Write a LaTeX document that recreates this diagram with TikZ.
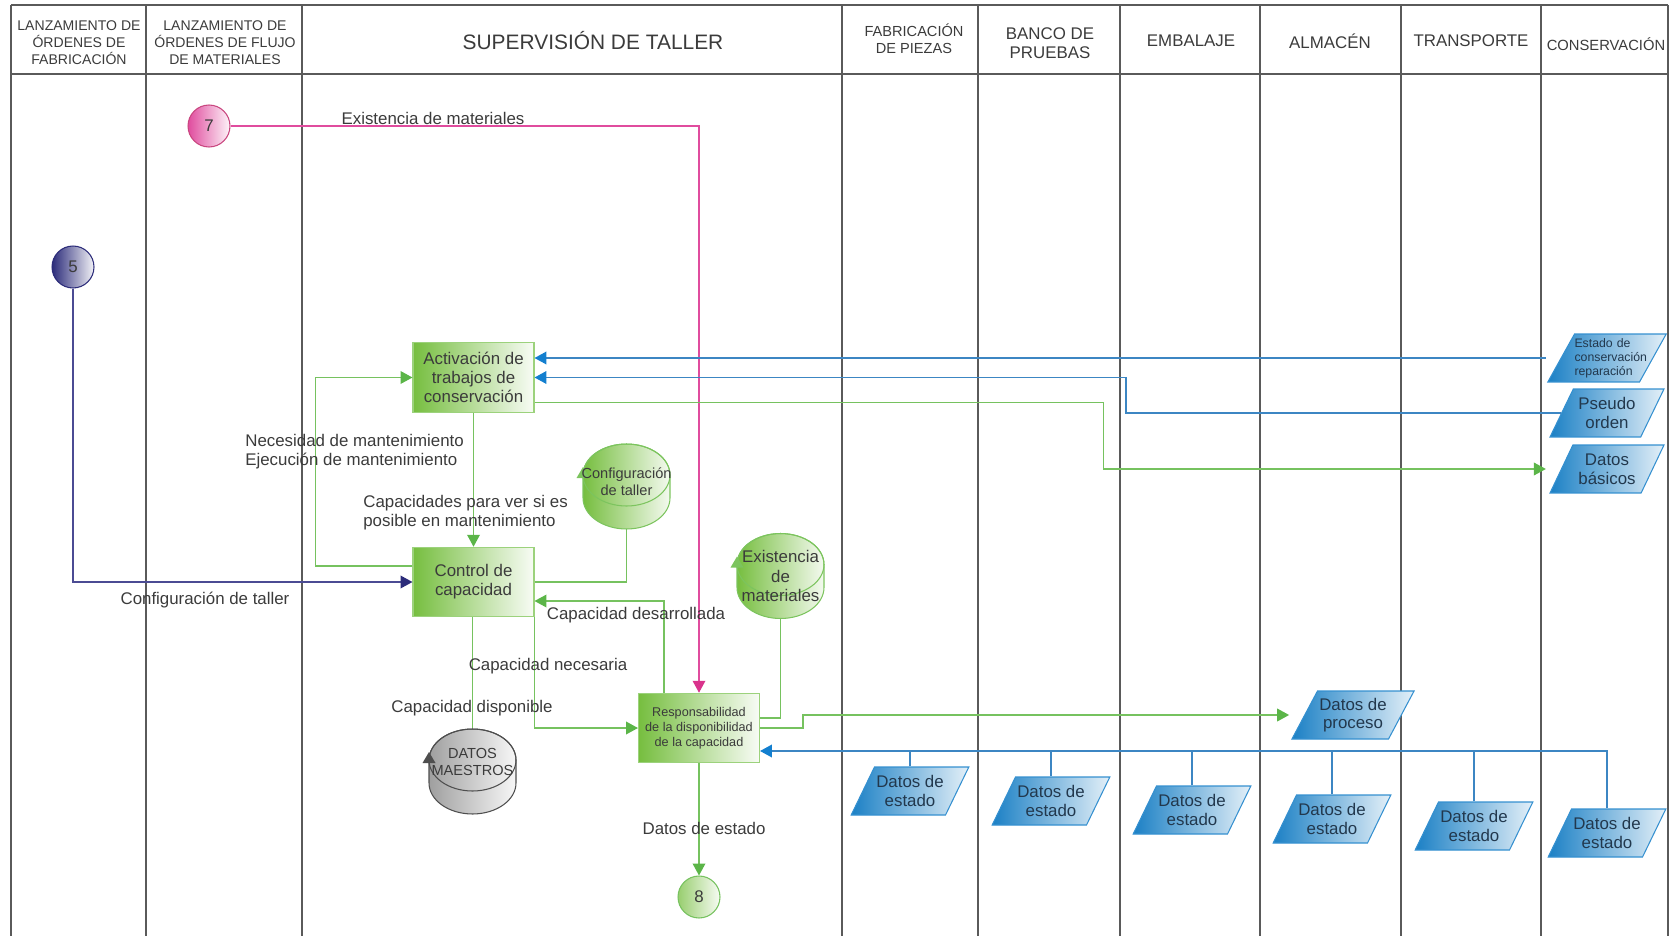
\documentclass[tikz,border=0pt]{standalone}
\usepackage{fontspec}
\setmainfont{Liberation Sans}
\usepackage{xcolor}
\usepackage{tikz}
\usetikzlibrary{shapes.geometric, arrows.meta, positioning, calc}

\definecolor{lanegray}{HTML}{5A5A5A}
\definecolor{txtgray}{HTML}{3B3B3B}
\definecolor{flowgreen}{HTML}{76C25F}
\definecolor{tipgreen}{HTML}{5BB548}
\definecolor{boxgreen}{HTML}{76BE3F}
\definecolor{boxedge}{HTML}{9CD27C}
\definecolor{storeedge}{HTML}{7CC45E}
\definecolor{flowblue}{HTML}{3C86C3}
\definecolor{tipblue}{HTML}{137FCF}
\definecolor{docblue}{HTML}{1B80C5}
\definecolor{docedge}{HTML}{3590D0}
\definecolor{doctext}{HTML}{22384D}
\definecolor{flowpink}{HTML}{E04C9E}
\definecolor{tippink}{HTML}{D9338C}
\definecolor{pinkedge}{HTML}{C9467F}
\definecolor{flownavy}{HTML}{4B4B93}
\definecolor{tipnavy}{HTML}{2C2C7A}
\definecolor{dmedge}{HTML}{4E4E4E}
\colorlet{dmgray}{gray!75}

% data store: short drum around a centre point, marker tip on the lid
\newcommand{\drum}[3]{%
    \path [left color=#2, right color=#2!8, draw=#3, line width=0.6pt]
        ([shift={(-0.87cm,0.23cm)}]#1) -- ([shift={(-0.87cm,-0.23cm)}]#1)
        arc [start angle=180, end angle=360, x radius=0.87cm, y radius=0.62cm]
        -- ([shift={(0.87cm,0.23cm)}]#1)
        arc [start angle=0, end angle=180, x radius=0.87cm, y radius=0.62cm] -- cycle;
    \draw [#3, line width=0.6pt] ([yshift=0.23cm]#1) ellipse [x radius=0.87cm, y radius=0.62cm];
    \fill [#3] ([shift={(-0.87cm,0.39cm)}]#1) -- ++(-0.13cm,-0.22cm) -- ++(0.26cm,0) -- cycle;
}

\begin{document}
\begin{tikzpicture}[
        x=0.02cm, y=-0.02cm,
        lane/.style={draw=lanegray, line width=0.75pt},
        lanetitle/.style={align=center, text=txtgray, font=\fontsize{8}{9.6}\selectfont},
        lanehead/.style={align=center, text=txtgray, font=\fontsize{9.6}{10.6}\selectfont},
        flowlabel/.style={align=left, inner sep=0pt, text=txtgray, font=\fontsize{9.6}{10.9}\selectfont},
        procbox/.style={rectangle, draw=boxedge, line width=0.6pt, left color=boxgreen, right color=boxgreen!5, minimum width=2.42cm, minimum height=1.39cm, align=center, inner sep=1pt, text=txtgray, font=\fontsize{9.6}{10.9}\selectfont},
        store/.style={rectangle, minimum width=1.74cm, minimum height=1.7cm, inner sep=0pt, align=center, text=txtgray, font=\fontsize{8.3}{9.4}\selectfont},
        docbox/.style={trapezium, trapezium left angle=56, trapezium right angle=124, trapezium stretches body, draw=docedge, line width=0.6pt, left color=docblue, right color=docblue!12, minimum width=2.28cm, minimum height=0.96cm, inner sep=1pt, align=center, text=doctext, font=\fontsize{9.6}{10.6}\selectfont},
        conn/.style={circle, minimum size=0.84cm, inner sep=0pt, line width=0.6pt, text=txtgray, font=\fontsize{9.6}{10.9}\selectfont},
        greenline/.style={draw=flowgreen, line width=0.8pt, -{Triangle[length=6.8pt, width=7.2pt, color=tipgreen]}},
        greenwire/.style={draw=flowgreen, line width=0.8pt},
        blueline/.style={draw=flowblue, line width=0.9pt, -{Triangle[length=6.8pt, width=7.2pt, color=tipblue]}},
        bluewire/.style={draw=flowblue, line width=0.9pt},
        pinkline/.style={draw=flowpink, line width=0.8pt, -{Triangle[length=6.8pt, width=7.2pt, color=tippink]}},
        navyline/.style={draw=flownavy, line width=0.8pt, -{Triangle[length=6.8pt, width=7.2pt, color=tipnavy]}}
        ]
        \useasboundingbox (0,0) rectangle (1670,936);

        % Lanes
        \foreach \x in {11,146,302,842,978,1120,1260,1401,1541,1668}
            \draw [lane] (\x,5) -- (\x,936);
        \draw [lane] (11,5) -- (1668,5);
        \draw [lane] (11,74) -- (1668,74);

        \node (hdLOF) [lanetitle] at (79,43) {LANZAMIENTO DE\\ÓRDENES DE\\FABRICACIÓN};
        \node (hdLOM) [lanetitle] at (225,43) {LANZAMIENTO DE\\ÓRDENES DE FLUJO\\DE MATERIALES};
        \node (hdST) [lanehead, font=\fontsize{11.9}{13}\selectfont] at (593,41) {SUPERVISIÓN DE TALLER};
        \node (hdFP) [lanetitle, font=\fontsize{8.3}{9.6}\selectfont] at (914,39) {FABRICACIÓN\\DE PIEZAS};
        \node (hdBP) [lanehead] at (1050,43) {BANCO DE\\PRUEBAS};
        \node (hdEM) [lanehead] at (1191,41) {EMBALAJE};
        \node (hdAL) [lanehead] at (1330,41) {ALMACÉN};
        \node (hdTR) [lanehead] at (1471,41) {TRANSPORTE};
        \node (hdCO) [lanetitle, font=\fontsize{8.4}{9.6}\selectfont] at (1606,44) {CONSERVACIÓN};

        % Off-page connectors
        \node (c7) [conn, draw=pinkedge, left color=flowpink, right color=flowpink!6] at (209,126) {7};
        \node (c5) [conn, draw=tipnavy, left color=tipnavy, right color=tipnavy!6] at (73,267) {5};
        \node (c8) [conn, draw=flowgreen, left color=boxgreen!75, right color=boxgreen!6] at (699,897) {8};

        % Processes
        \node (activ) [procbox] at (473.5,377.5) {Activación de\\trabajos de\\conservación};
        \node (ctrl) [procbox] at (473.5,582) {Control de\\capacidad};
        \node (resp) [procbox, font=\fontsize{7.2}{8.4}\selectfont] at (699,728) {Responsabilidad\\de la disponibilidad\\de la capacidad};

        % Data stores
        \coordinate (cfgpos) at (626.5,486.5);
        \coordinate (expos) at (780.5,576);
        \coordinate (dmpos) at (472.5,771.5);
        \drum{cfgpos}{boxgreen}{storeedge}
        \drum{expos}{boxgreen}{storeedge}
        \drum{dmpos}{dmgray}{dmedge}
        \node (cfg) [store, minimum height=1.9cm] at (626.5,481.5) {Configuración\\de taller};
        \node (exm) [store, font=\fontsize{9.6}{10.9}\selectfont] at (expos) {Existencia\\de\\materiales};
        \node (dm) [store, minimum height=1.36cm] at (472.5,762) {DATOS\\MAESTROS};

        % Documents
        \node (cons) [docbox, align=left, text width=1.3cm, inner xsep=0pt, inner ysep=0pt, font=\fontsize{7}{8}\selectfont] at (1607,358) {Estado de\\conservación\\reparación};
        \node (pseudo) [docbox] at (1607,413) {Pseudo\\orden};
        \node (basic) [docbox] at (1607,469) {Datos\\básicos};
        \node (proc) [docbox] at (1353,715) {Datos de\\proceso};
        \foreach \n/\x/\y in {1/910/791, 2/1051/801, 3/1192/810, 4/1332/819, 5/1474/826, 6/1607/833}
            \node (est\n) [docbox] at (\x,\y) {Datos de\\estado};

        % Capacity flows
        \draw [pinkline] (c7) -| (resp.north);
        \draw [navyline] (c5) |- (ctrl.west);
        \draw [greenline] ($(ctrl.west)+(0,-16)$) -- ++(-97,0) |- (activ.west);
        \draw [greenline] (activ) -- (ctrl);
        \draw [greenwire] (ctrl.east) -| (cfg.south);
        \draw [greenline] ($(resp.north)+(-35,0)$) |- ($(ctrl.east)+(0,19)$);
        \draw [greenline] (ctrl.south east) |- (resp.west);
        \draw [greenwire] (dm.north) -- (dm.north |- ctrl.south);
        \draw [greenwire] (exm.south) |- ($(resp.east)+(0,-10)$);
        \draw [greenline] (resp.east) -- ++(43,0) |- ([xshift=-0.3cm]proc.west);
        \draw [greenline] (resp) -- (c8);

        % Maintenance data
        \draw [blueline] ([xshift=-0.3cm]cons.west) -- (cons.west -| activ.east);
        \draw [blueline] (pseudo.west) -- ++(-435,0) |- (activ.east);
        \draw [greenline] ($(activ.east)+(0,25)$) -- ++(569,0) |- ([xshift=-0.3cm]basic.west);

        % Status data bus
        \coordinate (bus) at ($(resp.east)+(0,23)$);
        \draw [blueline] (est6.north) |- (bus);
        \foreach \n in {1,...,5}
            \draw [bluewire] (est\n.north) -- (est\n.north |- bus);

        % Flow labels
        \node (lblExist) [flowlabel] at (433,118) {Existencia de materiales};
        \node (lblCfg) [flowlabel] at (205,600) {Configuración de taller};
        \node (lblNeed) [flowlabel, anchor=west] at (245,451.5) {Necesidad de mantenimiento\\Ejecución de mantenimiento};
        \node (lblCap) [flowlabel, anchor=west] at (363,512.5) {Capacidades para ver si es\\posible en mantenimiento};
        \node (lblDev) [flowlabel] at (636,615) {Capacidad desarrollada};
        \node (lblReq) [flowlabel] at (548,666) {Capacidad necesaria};
        \node (lblAvail) [flowlabel] at (472,708) {Capacidad disponible};
        \node (lblState) [flowlabel] at (704,828) {Datos de estado};

\end{tikzpicture}
\end{document}
